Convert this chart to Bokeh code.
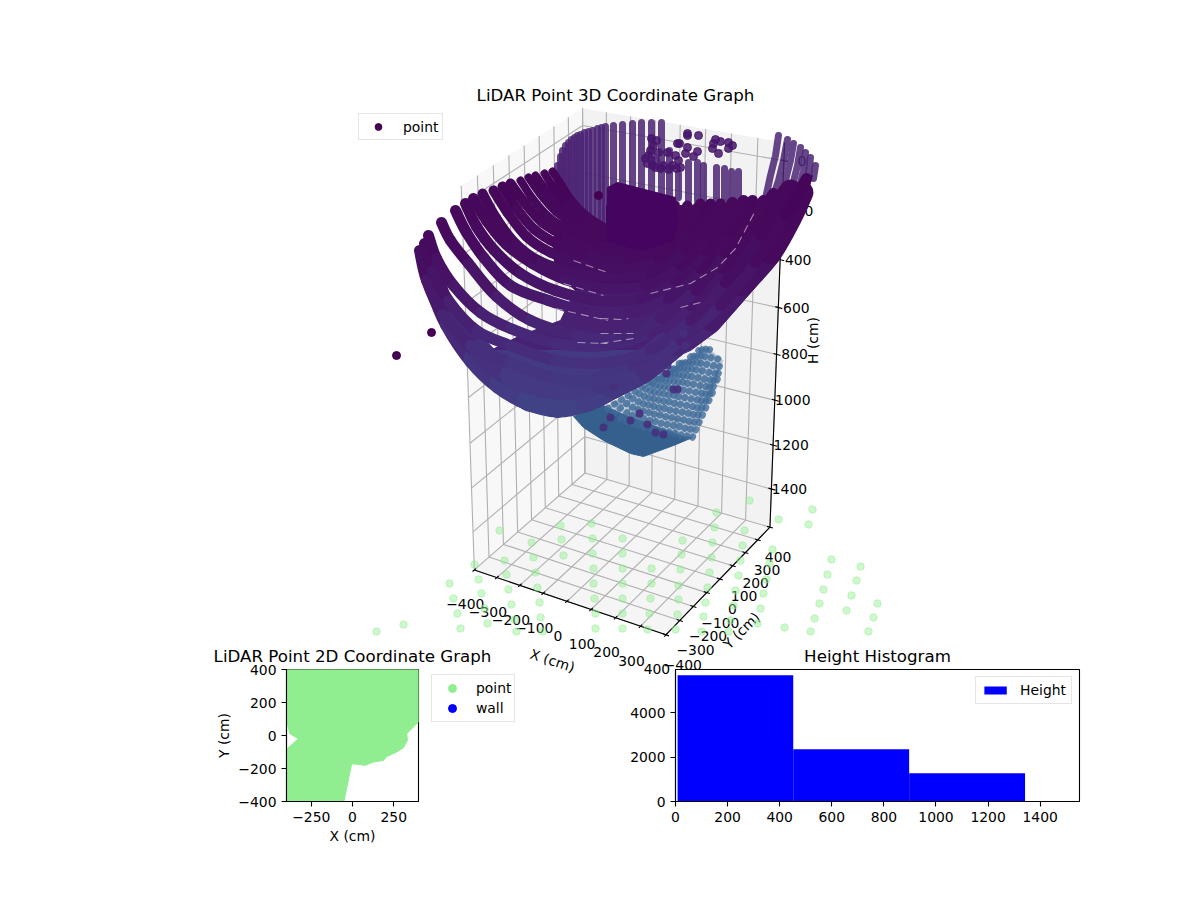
import numpy as np
from bokeh.plotting import figure
from bokeh.layouts import row, column
from bokeh.models import Range1d, Legend, LegendItem, FixedTicker, ColumnDataSource
from bokeh.core.properties import value
from bokeh.palettes import Viridis256
from bokeh.embed import file_html
from bokeh.resources import INLINE

FONT = "DejaVu Sans"
TICK_PX = "13.9px"
TITLE_PX = "16.67px"

# ---------- 2D chart values (cm) ----------
outline_x = [-400, 400, 400, 329, 333, 309, 268, 208, 187, 127, 76, 35, -5, -52, -400, -400, -329, -380, -396, -400]
outline_y = [400, 400, 82, 11, -29, -74, -100, -127, -151, -161, -181, -175, -171, -400, -400, -85, -19, 11, 76, 82]
wall_x = [0]
wall_y = [300]
legend_point_x = [0]
legend_point_y = [200]
xy_xticks = [-250, 0, 250]
xy_yticks = [-400, -200, 0, 200, 400]

# ---------- histogram values ----------
hist_edges = [8, 452, 897, 1342]
hist_counts = [5700, 2360, 1280]
hist_xticks = [0, 200, 400, 600, 800, 1000, 1200, 1400]
hist_yticks = [0, 2000, 4000]

# ---------- 3D box: world ticks and where its corners sit in the view ----------
box_x = [-400, -300, -200, -100, 0, 100, 200, 300, 400]
box_y = [-400, -300, -200, -100, 0, 100, 200, 300, 400]
box_z = [0, 200, 400, 600, 800, 1000, 1200, 1400]
Z_TOP, Z_FLOOR = -72, 1577
corner_world = [(-400, -400, Z_FLOOR), (400, -400, Z_FLOOR), (400, 400, Z_FLOOR), (-400, 400, Z_FLOOR),
                (-400, 400, Z_TOP), (-400, -400, Z_TOP), (400, 400, Z_TOP)]
corner_view = [(473, 570), (665, 634), (769, 527), (586, 472), (580, 108), (462, 185), (785, 142)]

# ---------- 3D cloud, as read in the projected view (horizontal, vertical) ----------
floor_pts = [(749,500),(716,512),(812,509),(778,519),(808,524),(714,527),(744,530),(682,540),(712,542),(742,545),
 (772,549),(681,554),(711,557),(740,560),(769,563),(831,559),(860,566),(680,569),(709,572),(738,575),(766,579),
 (827,574),(856,580),(678,585),(707,587),(735,590),(763,593),(823,589),(851,595),(877,603),(678,599),(705,602),
 (733,605),(760,608),(819,603),(846,610),(873,617),(677,614),(703,616),(730,620),(757,623),(814,618),(784,627),
 (868,631),(675,629),(701,631),(728,631),(810,631),(499,530),(560,525),(591,523),(561,539),(592,538),(622,538),
 (531,542),(533,557),(563,555),(592,553),(622,553),(504,560),(474,564),(593,568),(622,568),(651,568),(535,572),
 (506,574),(478,579),(449,583),(593,583),(622,583),(651,583),(537,587),(508,589),(481,593),(453,598),(594,598),
 (622,598),(650,598),(539,602),(511,604),(457,613),(484,608),(595,613),(622,613),(649,613),(540,617),(514,619),
 (595,628),(622,628),(647,629),(403,624),(376,631),(460,628),(516,631),(487,623),(542,631)]

col_x = [557,560,562,565,568,571,574,577,580,584,588,592,597,601,605,613,622,632,641,651,661,669,678,688,697,703,716,724,731,738]
col_top = [165,156,150,145,142,139,137,135,134,132,131,130,128,127,126,125,124,123,122,122,122,150,173,162,162,165,167,168,171,171]
col_bot = [182,192,200,208,215,218,222,225,228,232,235,238,240,240,240,200,200,200,200,200,200,197,197,200,200,200,200,200,200,200]

right_strips = [[(778,135),(775,155),(770,175),(765,198)], [(787,139),(783,160),(778,180),(772,198)],
                [(793,143),(790,160),(785,180),(780,195)], [(800,147),(797,165),(792,185)],
                [(805,152),(803,170),(798,190)], [(810,157),(808,175),(805,190)], [(815,165),(813,178)]]

cluster_pts = [(653,145),(648,155),(647,163),(655,160),(667,152),(675,155),(678,160),(680,167),(672,165),(663,165),
 (655,167),(650,150),(658,152),(645,158),(652,165),(660,168),(668,169),(676,168),(656,140),(651,138),
 (687,133),(687,135),(698,135),(679,143),(677,143),(687,147),(697,151),
 (693,156),(685,153),(715,139),(720,141),(728,142),(713,143),(712,148),(732,145),(728,148),(718,153)]
stray_pts = [(396,355),(431,332),(598,195)]

lattice_area = [(607,405),(707,347),(723,360),(692,437),(625,420)]
lattice_lines = [[(607,408),(665,372)], [(613,413),(672,368)], [(620,418),(680,362)], [(626,421),(686,358)],
                 [(632,423),(692,354)], [(638,425),(698,350)], [(644,427),(703,347)], [(650,428),(707,346)],
                 [(656,430),(710,348)], [(662,431),(714,352)], [(668,432),(719,356)], [(674,433),(723,360)],
                 [(680,435),(721,368)], [(686,436),(718,377)], [(692,437),(714,388)]]
fan_outline = [(573,416),(603,405),(625,415),(683,436),(692,437),(673,445),(643,456),(630,453),(603,440),(583,427)]
deep_pts = [(603,427),(610,417),(630,420),(639,413),(647,424),(655,432),(663,434),(673,389),(677,389),(666,373),
            (613,387),(683,333),(685,345),(672,343),(643,357),(650,357),(630,367),(667,365)]

fill_upper = [(565,210),(552,240),(555,272),(575,290),(752,290),(778,260),(798,225),(812,175),(775,195),(752,202),
              (722,205),(606,205),(606,228),(587,216)]
fill_mid = [(575,290),(560,320),(520,335),(490,350),(690,350),(717,330),(752,290)]
fill_low = [(440,310),(458,345),(490,350),(690,350),(683,353),(650,380),(617,397),(590,410),(557,417),(525,410),
            (495,392),(467,365)]
block = [(607,187),(617,182),(675,197),(677,222),(672,240),(640,250),(606,240)]

bowl_bands = [
 [(430,262),(436,288),(450,322),(474,358),(500,383),(528,399),(557,406),(587,400),(613,387),(645,370),(677,344),(710,320),(742,285),(770,253),(790,218),(802,192)],
 [(455,320),(480,350),(510,375),(557,388),(600,382),(640,362),(675,332),(705,302),(735,265),(765,225),(790,190)],
]

bowl_arcs = [
 [(419,250),(426,280),(442,314),(470,345),(510,362),(555,378),(600,380),(640,370),(680,340),(720,305),(755,262),(785,215),(806,178)],
 [(424,243),(432,270),(448,300),(476,330),(510,345),(555,360),(605,362),(650,350),(690,320),(725,282),(760,235),(787,190)],
 [(428,235),(436,258),(453,285),(480,312),(510,328),(555,343),(605,345),(650,332),(690,305),(722,268),(752,225),(773,193)],
 [(441,222),(450,240),(468,263),(496,296),(530,320),(575,334),(620,338),(660,318),(695,290),(725,252),(763,200)],
 [(455,210),(466,232),(484,258),(510,285),(548,300),(590,312),(630,312),(668,298),(700,268),(728,232),(752,200)],
 [(465,203),(476,226),(494,250),(520,273),(555,290),(598,300),(640,298),(675,280),(705,250),(743,200)],
 [(473,198),(486,220),(506,244),(532,263),(565,279),(605,288),(645,285),(680,265),(708,235),(732,202)],
 [(482,193),(496,218),(515,243),(540,261),(575,272),(612,277),(650,272),(685,250),(720,203)],
 [(493,190),(507,212),(526,236),(550,252),(583,264),(620,268),(658,258),(690,228),(710,203)],
 [(502,186),(516,208),(534,229),(558,244),(590,256),(628,258),(665,245),(700,203)],
 [(510,183),(524,202),(542,222),(566,236),(598,248),(635,250),(668,232),(687,205)],
 [(520,180),(532,198),(548,216),(570,230),(600,242),(640,243),(672,215)],
 [(528,177),(540,194),(555,211),(575,225),(603,237),(640,236),(675,204)],
 [(535,175),(546,190),(561,207),(580,221),(605,233)],
 [(544,173),(553,187),(566,204),(584,219),(606,230)],
 [(552,171),(560,183),(572,201),(587,216),(606,228)],
]

# slivers of background still showing between rings of the bowl
slivers = [[(600,318),(620,319),(628,318)], [(600,333),(633,333)], [(600,343),(633,338)],
           [(650,293),(690,283),(717,267),(735,248),(755,210)], [(680,307),(700,302)],
           [(573,260),(607,272)], [(563,283),(603,295)], [(555,308),(607,320)], [(577,342),(607,343)]]

# ---------- camera fitted to the box corners ----------
def fit_camera(world, view):
    rows = []
    for (x, y, z), (u, v) in zip(world, view):
        X = [x / 1000, y / 1000, z / 1000, 1]
        rows.append(X + [0, 0, 0, 0] + [-u / 1000 * c for c in X])
        rows.append([0, 0, 0, 0] + X + [-v / 1000 * c for c in X])
    return np.linalg.svd(np.array(rows))[2][-1].reshape(3, 4)

CAM = fit_camera(corner_world, corner_view)

def project(x, y, z):
    h = CAM @ np.array([x / 1000, y / 1000, z / 1000, 1.0])
    return 1000 * h[0] / h[2], 1000 * h[1] / h[2]

def shade(v):
    t = np.interp(v, [100, 250, 300, 350, 417, 450], [0.0, 0.03, 0.07, 0.13, 0.21, 0.30])
    return Viridis256[int(t * 255)]

def split(pts):
    return [p[0] for p in pts], [p[1] for p in pts]

# ---------- top figure: a plain view plane holding the 3D chart ----------
top = figure(width=1184, height=680, x_range=Range1d(0, 1184), y_range=Range1d(680, 0), min_border=0,
             x_axis_type=None, y_axis_type=None, toolbar_location=None, output_backend="svg",
             outline_line_color=None)
top.grid.visible = False

def wall(pts, color):
    xs, ys = zip(*[project(*p) for p in pts])
    top.patch(list(xs), list(ys), fill_color=color, fill_alpha=0.5, line_color=None)

X0, X1, Y0, Y1 = -400, 400, -400, 400
wall([(X0, Y0, Z_FLOOR), (X0, Y1, Z_FLOOR), (X0, Y1, Z_TOP), (X0, Y0, Z_TOP)], "#f2f2f2")
wall([(X0, Y1, Z_FLOOR), (X1, Y1, Z_FLOOR), (X1, Y1, Z_TOP), (X0, Y1, Z_TOP)], "#e6e6e6")
wall([(X0, Y0, Z_FLOOR), (X1, Y0, Z_FLOOR), (X1, Y1, Z_FLOOR), (X0, Y1, Z_FLOOR)], "#ececec")

gx, gy = [], []
def seg(a, b):
    pa, pb = project(*a), project(*b)
    gx.append([pa[0], pb[0]])
    gy.append([pa[1], pb[1]])

for x in box_x:
    seg((x, Y0, Z_FLOOR), (x, Y1, Z_FLOOR))
    seg((x, Y1, Z_FLOOR), (x, Y1, Z_TOP))
for y in box_y:
    seg((X0, y, Z_FLOOR), (X1, y, Z_FLOOR))
    seg((X0, y, Z_FLOOR), (X0, y, Z_TOP))
for z in box_z:
    seg((X0, Y0, z), (X0, Y1, z))
    seg((X0, Y1, z), (X1, Y1, z))
top.multi_line(gx, gy, line_color="#b0b0b0", line_width=1.1)

ax, ay = [], []
def axseg(a, b):
    pa, pb = project(*a), project(*b)
    ax.append([pa[0], pb[0]])
    ay.append([pa[1], pb[1]])

axseg((X0, Y0, Z_FLOOR), (X1, Y0, Z_FLOOR))
axseg((X1, Y0, Z_FLOOR), (X1, Y1, Z_FLOOR))
axseg((X1, Y1, Z_FLOOR), (X1, Y1, Z_TOP))
for x in box_x:
    axseg((x, Y0 + 12, Z_FLOOR), (x, Y0 - 12, Z_FLOOR))
for y in box_y:
    axseg((X1 - 12, y, Z_FLOOR), (X1 + 12, y, Z_FLOOR))
for z in box_z:
    p = project(X1, Y1, z)
    ax.append([p[0] - 3, p[0] + 4])
    ay.append([p[1] - 1, p[1] + 1])
top.multi_line(ax, ay, line_color="black", line_width=1.1)

def label(u, v, s, angle=0.0, size=TICK_PX):
    top.text([u], [v], text=[s], text_font=value(FONT), text_font_size=size, text_color="black",
             text_align="center", text_baseline="middle", angle=angle, angle_units="deg")

def minus(n):
    return str(n).replace("-", "\u2212")

for x in box_x:
    u, v = project(x, Y0, Z_FLOOR)
    label(u - 9, v + 34.5, minus(x))
for y in box_y:
    u, v = project(X1, y, Z_FLOOR)
    label(u + 12.5 - 0.011 * y, v + 30, minus(y))
for z in box_z:
    u, v = project(X1, Y1, z)
    label(u + 18, v, minus(z))
label(552, 660, "X (cm)", angle=-18)
label(741, 630, "Y (cm)", angle=45)
label(812, 340, "H (cm)", angle=90)
label(615, 95, "LiDAR Point 3D Coordinate Graph", size=TITLE_PX)

fu, fv = split(floor_pts)
top.scatter(fu, fv, size=7.5, fill_color="#90ee90", fill_alpha=0.45, line_color="#90ee90", line_alpha=0.45)

top.multi_line([[c, c] for c in col_x], [[a, b] for a, b in zip(col_top, col_bot)],
               line_color="#4b2474", line_alpha=0.85, line_width=7, line_cap="round")
top.multi_line([split(s)[0] for s in right_strips], [split(s)[1] for s in right_strips],
               line_color="#4b2474", line_alpha=0.85, line_width=7, line_cap="round")
cu, cv = split(cluster_pts)
top.scatter(cu, cv, size=8, fill_color="#47156b", fill_alpha=0.85, line_color="#47156b", line_alpha=0.85)

fan_u, fan_v = split(fan_outline)
top.patch(fan_u, fan_v, fill_color="#35608d", line_color="#35608d", line_width=1)
la_u, la_v = split(lattice_area)
top.patch(la_u, la_v, fill_color="#3f6a98", fill_alpha=0.3, line_color=None)
top.multi_line([split(s)[0] for s in lattice_lines], [split(s)[1] for s in lattice_lines],
               line_color="#3f6a98", line_alpha=0.8, line_width=6.5, line_cap="round", line_dash="1 7")

for area, level in ((fill_upper, 240), (fill_mid, 320), (fill_low, 385)):
    au, av = split(area)
    top.patch(au, av, fill_color=shade(level), line_color=shade(level))

def smooth_source(curves, widths):
    """Segments of each read polyline with tangent handles, so the browser strokes a smooth curve."""
    d = {k: [] for k in ("x0", "y0", "x1", "y1", "cx0", "cy0", "cx1", "cy1", "c", "w")}
    for pts, w in zip(curves, widths):
        n = len(pts)
        for i in range(n - 1):
            p0, p1 = pts[i], pts[i + 1]
            pm = pts[max(i - 1, 0)]
            pn = pts[min(i + 2, n - 1)]
            d["x0"].append(p0[0]); d["y0"].append(p0[1])
            d["x1"].append(p1[0]); d["y1"].append(p1[1])
            d["cx0"].append(p0[0] + (p1[0] - pm[0]) / 6); d["cy0"].append(p0[1] + (p1[1] - pm[1]) / 6)
            d["cx1"].append(p1[0] - (pn[0] - p0[0]) / 6); d["cy1"].append(p1[1] - (pn[1] - p0[1]) / 6)
            d["c"].append(shade((p0[1] + p1[1]) / 2))
            d["w"].append(w)
    return ColumnDataSource(d)

def draw_curves(curves, widths):
    top.bezier("x0", "y0", "x1", "y1", "cx0", "cy0", "cx1", "cy1", source=smooth_source(curves, widths),
               line_color="c", line_width="w", line_cap="round")

draw_curves(bowl_bands, [22, 22])
draw_curves(bowl_arcs, [11] * 7 + [10] * 4 + [8] * 5)

top.multi_line([split(s)[0] for s in slivers], [split(s)[1] for s in slivers],
               line_color="white", line_alpha=0.5, line_width=1.1, line_dash="8 5")

bu, bv = split(block)
top.patch(bu, bv, fill_color="#45045f", line_color="#45045f")
du, dv = split(deep_pts)
top.scatter(du, dv, size=8, fill_color="#46307d", fill_alpha=0.9, line_color=None)
tu, tv = split(stray_pts)
pr = top.scatter(tu, tv, size=8, fill_color="#440154", line_color="#440154")

leg = Legend(items=[LegendItem(label="point", renderers=[pr])], location=(358, 540),
             label_text_font=FONT, label_text_font_size=TICK_PX, label_text_color="black",
             border_line_color="#cccccc", background_fill_alpha=0.8, margin=0, padding=4, glyph_width=30,
             glyph_height=17, label_standoff=10, spacing=0, label_height=16)
top.add_layout(leg, "center")

# ---------- small charts ----------
def small(frame_w, left, right, xr, yr, title, xt, yt, margin=None):
    f = figure(frame_width=frame_w, frame_height=132, x_range=Range1d(*xr), y_range=Range1d(*yr),
               toolbar_location=None, output_backend="svg", min_border_left=left, min_border_right=right,
               min_border_top=29, min_border_bottom=50, title=title, title_location="above",
               border_fill_alpha=0, background_fill_color="white", outline_line_color="black",
               outline_line_width=1.1, outline_line_alpha=1, margin=margin)
    f.title.text_font = FONT
    f.title.text_font_size = TITLE_PX
    f.title.text_font_style = "normal"
    f.title.text_color = "black"
    f.title.align = "center"
    f.title.standoff = 8
    f.grid.visible = False
    f.xaxis.ticker = FixedTicker(ticks=xt)
    f.yaxis.ticker = FixedTicker(ticks=yt)
    f.xaxis.major_label_overrides = {t: minus(t) for t in xt}
    f.yaxis.major_label_overrides = {t: minus(t) for t in yt}
    for a in (f.xaxis[0], f.yaxis[0]):
        a.major_label_text_font = FONT
        a.major_label_text_font_size = TICK_PX
        a.major_label_text_color = "black"
        a.axis_label_text_font = FONT
        a.axis_label_text_font_size = TICK_PX
        a.axis_label_text_font_style = "normal"
        a.axis_label_text_color = "black"
        a.major_tick_in = 0
        a.major_tick_out = 5
        a.minor_tick_line_color = None
        a.axis_line_width = 1.1
        a.major_tick_line_width = 1.1
        a.major_tick_line_color = "black"
        a.axis_line_color = "black"
        a.axis_label_standoff = 3
    f.yaxis[0].major_label_orientation = "horizontal"
    return f

xy = small(132, 96, 112, (-400, 400), (-400, 400), "LiDAR Point 2D Coordinate Graph", xy_xticks, xy_yticks)
xy.xaxis.axis_label = "X (cm)"
xy.yaxis.axis_label = "Y (cm)"
r_wl = xy.scatter(wall_x, wall_y, size=9, fill_color="blue", line_color="blue")
xy.patch(outline_x, outline_y, fill_color="lightgreen", line_color="lightgreen")
r_pt = xy.scatter(legend_point_x, legend_point_y, size=9, fill_color="lightgreen", line_color="lightgreen")
xy_leg = Legend(items=[LegendItem(label="point", renderers=[r_pt]), LegendItem(label="wall", renderers=[r_wl])],
                location=(13, 79), label_text_font=FONT, label_text_font_size=TICK_PX, label_text_color="black",
                border_line_color="#cccccc", background_fill_alpha=0.8, margin=0, padding=3, glyph_width=34,
                glyph_height=20, label_standoff=7, spacing=0, label_height=16)
xy.add_layout(xy_leg, "right")

hs = small(404, 146, 20, (0, 1551), (0, 5955), "Height Histogram", hist_xticks, hist_yticks, margin=(0, 0, 0, -439))
bars = hs.quad(left=hist_edges[:-1], right=hist_edges[1:], bottom=[0, 0, 0], top=hist_counts,
               fill_color="blue", line_color=None)
hs_leg = Legend(items=[LegendItem(label="Height", renderers=[bars])], location="top_right",
                label_text_font=FONT, label_text_font_size=TICK_PX, label_text_color="black",
                border_line_color="#cccccc", background_fill_alpha=0.8, margin=7, padding=5, glyph_width=28,
                glyph_height=10, label_standoff=11, label_height=14)
hs.add_layout(hs_leg, "center")

lower = row(xy, hs, margin=(-40, 0, 0, 190))
page = column(top, lower)
open("out.html", "w").write(file_html(page, INLINE))
